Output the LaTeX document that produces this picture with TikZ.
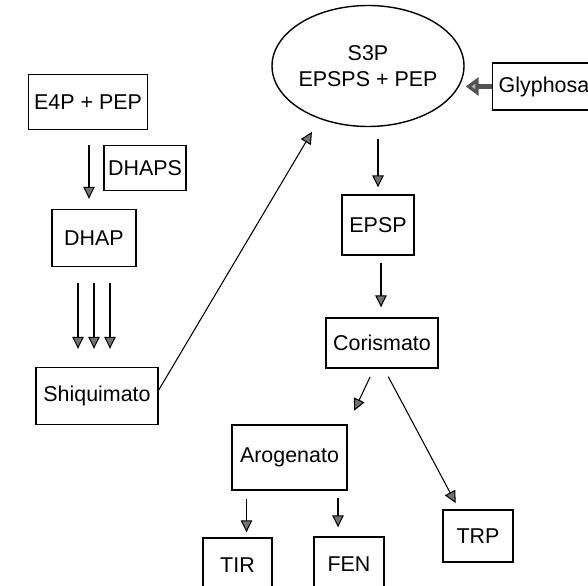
\documentclass[tikz,border=0pt]{standalone}
\usepackage{fontspec}
\setmainfont{Liberation Sans}
\usepackage{tikz}
\usetikzlibrary{positioning,arrows.meta,calc,shapes.geometric}
\tikzset{
  flowarrow/.style={-{Triangle[length=2.4mm, width=2.3mm, fill=black!55]}, line width=0.6pt},
  blockarrow/.style={-{Triangle[length=2.6mm, width=3.6mm, fill=gray!60]}, line width=3pt, draw=gray!65!black},
  metabox/.style={draw, line width=0.8pt, fill=white, inner sep=0pt, align=center},
  enzyme/.style={draw, ellipse, line width=0.8pt, fill=white, inner xsep=-0.04cm, inner ysep=0pt, minimum width=3.84cm, minimum height=2.42cm, align=center}
}

\begin{document}
\begin{tikzpicture}[every node/.style={font=\fontsize{12.2}{15}\selectfont}]
  \useasboundingbox (0,0) rectangle (11.76,-11.7);
  \node[metabox, minimum width=2.38cm, minimum height=1.1cm] (e4p) at (1.76,-2.04) {E4P + PEP};
  \node[metabox, minimum width=1.64cm, minimum height=0.9cm] (dhaps) at (2.9,-3.36) {DHAPS};
  \node[metabox, minimum width=1.68cm, minimum height=1.14cm] (dhap) at (1.88,-4.76) {DHAP};
  \node[metabox, minimum width=2.44cm, minimum height=1.14cm] (shiq) at (1.94,-7.92) {Shiquimato};
  \node[enzyme] (s3p) at (7.36,-1.32) {S3P\\EPSPS + PEP};
  \node[metabox, anchor=west, minimum height=0.94cm, inner xsep=0.12cm] (glif) at (9.84,-1.73) {Glyphosa};
  \node[metabox, minimum width=1.44cm, minimum height=1.2cm] (epsp) at (7.56,-4.5) {EPSP};
  \node[metabox, minimum width=2.24cm, minimum height=1.0cm] (cor) at (7.64,-6.86) {Corismato};
  \node[metabox, minimum width=2.3cm, minimum height=1.3cm] (aro) at (5.79,-9.15) {Arogenato};
  \node[metabox, minimum width=1.38cm, minimum height=1.1cm] (tir) at (4.75,-11.31) {TIR};
  \node[metabox, minimum width=1.4cm, minimum height=1.1cm] (fen) at (6.98,-11.29) {FEN};
  \node[metabox, minimum width=1.4cm, minimum height=1.04cm] (trp) at (9.56,-10.72) {TRP};

  \draw[flowarrow, shorten <=0.3cm, shorten >=0.2cm] ([xshift=0.02cm]e4p.south) -- ([xshift=0.02cm]e4p.south |- dhap.north);
  \foreach \dx in {-0.32,0,0.32}
    \draw[flowarrow, shorten <=0.32cm, shorten >=0.36cm] ([xshift=\dx cm]dhap.south) -- ([xshift=\dx cm]dhap.south |- shiq.north);
  \draw[flowarrow, shorten >=1.53cm] ([yshift=0.12cm]shiq.east) -- ([xshift=-0.34cm]s3p.center);
  \draw[blockarrow, shorten >=0.02cm] (glif.west) -- (s3p.east |- glif.west);
  \draw[flowarrow, shorten <=0.24cm, shorten >=0.14cm] (epsp.north |- s3p.south) -- (epsp.north);
  \draw[flowarrow, shorten <=0.14cm, shorten >=0.2cm] ([xshift=0.06cm]epsp.south) -- ([xshift=0.06cm]epsp.south |- cor.north);
  \draw[flowarrow, shorten <=0.18cm, shorten >=0.3cm] ([xshift=-0.16cm]cor.south) -- (aro.north east);
  \draw[flowarrow, shorten <=0.18cm, shorten >=0.14cm] ([xshift=0.04cm]cor.south) -- ([xshift=-0.38cm]trp.north);
  \draw[flowarrow, shorten <=0.16cm, shorten >=0.1cm] ([xshift=0.18cm]tir.north |- aro.south) -- ([xshift=0.18cm]tir.north);
  \draw[flowarrow, shorten <=0.14cm, shorten >=0.18cm] ([xshift=-0.22cm]fen.north |- aro.south) -- ([xshift=-0.22cm]fen.north);
\end{tikzpicture}
\end{document}
